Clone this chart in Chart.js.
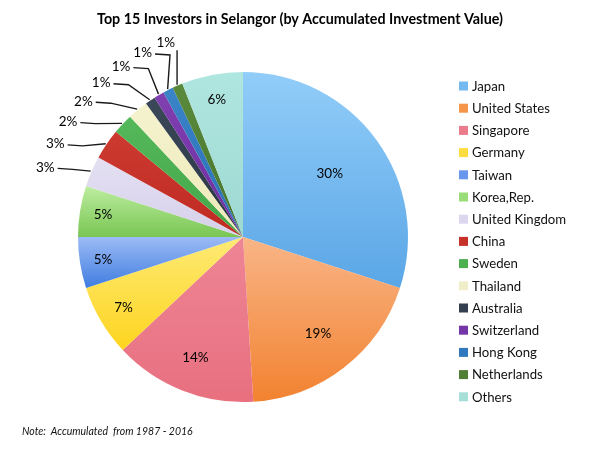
<!DOCTYPE html>
<html>
<head>
<meta charset="utf-8">
<script src="https://cdn.jsdelivr.net/npm/chart.js@4"></script>
<style>
html,body{margin:0;padding:0;background:#fff;}
#wrap{width:600px;height:450px;position:relative;}
</style>
</head>
<body>
<div id="wrap"><canvas id="c" width="600" height="450"></canvas></div>
<script>
const categories = ["Japan","United States","Singapore","Germany","Taiwan","Korea,Rep.","United Kingdom","China","Sweden","Thailand","Australia","Switzerland","Hong Kong","Netherlands","Others"];
const shares = [30,19,14,7,5,5,3,3,2,2,1,1,1,1,6];
const titleText = "Top 15 Investors in Selangor (by Accumulated Investment Value)";
const noteText = "Note:  Accumulated  from 1987 - 2016";
const lightColors = ["#92CDF9","#F9B587","#EE8595","#FEEA75","#9DBBF6","#BDEDA0","#E4E0F2","#CC3A30","#55B85A","#F5F3CF","#3A4859","#8040B0","#3A84C8","#5A8A3C","#B0E6E0"];
const darkColors  = ["#5AA6E6","#F28230","#E8707F","#FDD41E","#3F7DE0","#79C653","#D6D0EA","#BF2A22","#42A548","#EDE9B8","#2A3543","#6C2CA0","#2A6EB4","#46742C","#9ED8D2"];
const legendColors= ["#74B8F0","#F59548","#EB7C8C","#FDDC40","#6896EC","#99DD78","#DCD7EE","#C6322A","#4CAF50","#F0EEC8","#333F4F","#7536A8","#3179BE","#507E34","#A6DED8"];

const FONT = "Lato, 'Liberation Sans', sans-serif";

function sliceGradient(context){
  const chart = context.chart;
  const i = context.dataIndex;
  const ca = chart.chartArea;
  if (!ca) return lightColors[i];
  const cx = (ca.left+ca.right)/2, cy = (ca.top+ca.bottom)/2;
  const r = Math.min(ca.right-ca.left, ca.bottom-ca.top)/2;
  const total = shares.reduce((a,b)=>a+b,0);
  let cum = 0; for (let k=0;k<i;k++) cum += shares[k];
  const a0 = -Math.PI/2 + cum/total*2*Math.PI;
  const a1 = a0 + shares[i]/total*2*Math.PI;
  let ys = [cy, cy + r*Math.sin(a0), cy + r*Math.sin(a1)];
  for (const t of [Math.PI/2, 3*Math.PI/2, -Math.PI/2]) {
    if (t > a0 && t < a1) ys.push(cy + r*Math.sin(t));
  }
  const y0 = Math.min(...ys), y1 = Math.max(...ys);
  const g = chart.ctx.createLinearGradient(0, y0, 0, y1 + 0.01);
  g.addColorStop(0, lightColors[i]);
  g.addColorStop(1, darkColors[i]);
  return g;
}

const labelPlugin = {
  id: 'pieLabels',
  afterDatasetsDraw(chart){
    const ctx = chart.ctx;
    const arcs = chart.getDatasetMeta(0).data;
    const total = shares.reduce((a,b)=>a+b,0);
    ctx.save();
    ctx.font = "13.5px " + FONT;
    ctx.fillStyle = "#000";
    ctx.textAlign = "center";
    ctx.textBaseline = "middle";
    const outside = [];
    arcs.forEach((arc, i) => {
      const pct = shares[i]/total*100;
      const mid = (arc.startAngle + arc.endAngle)/2;
      const R = arc.outerRadius;
      const txt = Math.round(pct) + "%";
      if (pct >= 4) {
        const f = 0.65 + 0.25*(1 - Math.min(pct,30)/30);
        ctx.fillText(txt, arc.x + Math.cos(mid)*R*f, arc.y + Math.sin(mid)*R*f);
      } else {
        outside.push({i, mid, txt, R, x: arc.x, y: arc.y});
      }
    });
    const gap = 7*Math.PI/180;
    outside.sort((a,b)=>a.mid-b.mid);
    for (let k=0;k<outside.length;k++) outside[k].la = outside[k].mid;
    if (outside.length) outside[outside.length-1].la = outside[outside.length-1].mid + 1.8*Math.PI/180;
    for (let k=outside.length-2;k>=0;k--) {
      if (outside[k+1].la - outside[k].la < gap) outside[k].la = outside[k+1].la - gap;
    }
    ctx.strokeStyle = "#1a1a1a";
    ctx.lineWidth = 1.4;
    outside.forEach(o => {
      const LR = o.R*1.27;
      const lx = o.x + Math.cos(o.la)*LR, ly = o.y + Math.sin(o.la)*LR;
      ctx.fillText(o.txt, lx, ly);
      const ex = o.x + Math.cos(o.mid)*(o.R+1), ey = o.y + Math.sin(o.mid)*(o.R+1);
      const hw = ctx.measureText(o.txt).width/2;
      ctx.beginPath();
      if (Math.abs(ex - lx) < hw + 6) {
        ctx.moveTo(ex, ly + 8);
        ctx.lineTo(ex, ey);
      } else {
        const sx = lx + hw + 3;
        ctx.moveTo(sx, ly + 1);
        ctx.lineTo(sx + 15, ly + 2);
        ctx.lineTo(ex, ey);
      }
      ctx.stroke();
    });
    ctx.restore();
  },
  afterDraw(chart){
    const ctx = chart.ctx;
    ctx.save();
    // title
    ctx.font = "bold 14.3px " + FONT;
    ctx.fillStyle = "#000";
    ctx.textAlign = "center";
    ctx.textBaseline = "middle";
    ctx.fillText(titleText, 300, 19);
    // legend
    ctx.font = "13.2px " + FONT;
    ctx.textAlign = "left";
    ctx.fillStyle = "#111";
    categories.forEach((c, i) => {
      const y = 86 + i*22.2;
      ctx.fillStyle = legendColors[i];
      ctx.fillRect(459, y-4.5, 9, 9);
      ctx.fillStyle = "#111";
      ctx.fillText(c, 472, y+0.5);
    });
    // note
    ctx.font = "italic 10.5px " + FONT;
    ctx.fillStyle = "#111";
    ctx.fillText(noteText, 22, 432);
    ctx.restore();
  }
};

new Chart(document.getElementById('c'), {
  type: 'pie',
  data: {
    labels: categories,
    datasets: [{
      data: shares,
      backgroundColor: sliceGradient,
      borderWidth: 0,
      offset: 0,
      hoverOffset: 0,
      spacing: 0
    }]
  },
  options: {
    responsive: false,
    animation: false,
    events: [],
    layout: { padding: { left: 0, right: 114, top: 72, bottom: 48 } },
    plugins: {
      legend: { display: false },
      tooltip: { enabled: false },
      title: { display: false }
    }
  },
  plugins: [labelPlugin]
});
</script>
</body>
</html>
